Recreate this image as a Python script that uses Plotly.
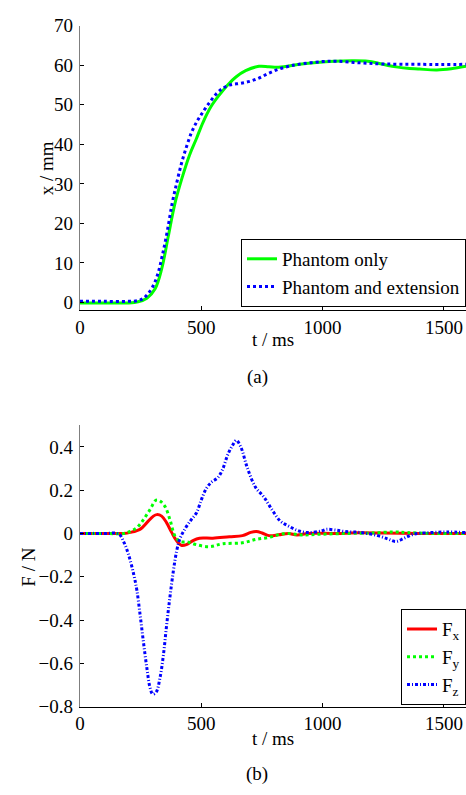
import plotly.graph_objects as go

# ---- Data: panel (a) displacement ----
t_green = [0, 100, 200, 240, 276, 310, 337, 364, 391, 421, 452, 480, 507, 541, 575, 609, 643, 683,
           738, 779, 819, 914, 1000, 1050, 1120, 1186, 1230, 1270, 1310, 1350, 1400, 1471, 1530, 1591]
x_green = [-0.1, -0.1, -0.1, 0.2, 1.1, 3.5, 8.5, 16.7, 24.9, 31.5, 37.3, 41.4, 45.5, 49.6, 52.5, 55.0,
           57.0, 58.6, 59.7, 59.6, 59.5, 60.3, 60.8, 61.0, 61.1, 61.0, 60.5, 59.9, 59.5, 59.2, 59.0,
           58.8, 59.1, 59.7]

t_blue = [0, 100, 200, 240, 260, 280, 300, 320, 340, 360, 380, 400, 420, 440, 460, 480, 500, 530,
          560, 590, 620, 660, 700, 740, 780, 820, 860, 900, 1000, 1060, 1150, 1250, 1400, 1600]
x_blue = [0.3, 0.3, 0.3, 0.5, 1.0, 2.2, 4.0, 7.0, 12.0, 18.0, 25.0, 30.5, 35.5, 39.5, 43.0, 45.5,
          47.5, 50.2, 52.6, 54.2, 55.0, 55.4, 55.9, 56.8, 58.0, 59.0, 59.7, 60.2, 60.9, 61.0, 60.6,
          60.3, 60.2, 60.2]

# ---- Data: panel (b) forces ----
t_fx = [0, 100, 180, 208, 249, 276, 303, 317, 337, 357, 378, 398, 418, 439, 466, 493, 548, 616, 670,
        704, 727, 751, 779, 819, 860, 894, 942, 1050, 1150, 1250, 1400, 1600]
fx = [0, 0, 0, 0.005, 0.02, 0.05, 0.08, 0.087, 0.08, 0.05, 0.005, -0.033, -0.055, -0.052, -0.033,
      -0.022, -0.022, -0.015, -0.01, 0.005, 0.009, 0.002, -0.01, -0.006, 0, -0.007, 0, 0, 0.003, 0.002,
      0, 0]

t_fy = [0, 100, 180, 208, 235, 262, 289, 314, 330, 351, 371, 391, 412, 446, 480, 534, 588, 670, 724,
        779, 847, 914, 982, 1100, 1200, 1295, 1349, 1450, 1600]
fy = [0, 0, 0, 0.01, 0.027, 0.064, 0.11, 0.154, 0.15, 0.124, 0.064, -0.01, -0.037, -0.04, -0.052,
      -0.061, -0.048, -0.043, -0.028, -0.018, 0, -0.007, -0.004, 0, 0.002, 0.007, 0.004, 0, 0]

t_fz = [0, 100, 160, 181, 201, 222, 235, 249, 262, 276, 289, 300, 314, 330, 344, 357, 371, 385, 398,
        412, 432, 459, 480, 500, 520, 541, 568, 588, 609, 629, 645, 663, 690, 724, 758, 792, 826, 860,
        901, 942, 996, 1016, 1050, 1091, 1159, 1227, 1268, 1302, 1336, 1376, 1444, 1512, 1591]
fz = [0, 0, -0.003, -0.04, -0.1, -0.19, -0.264, -0.384, -0.503, -0.622, -0.712, -0.742, -0.734,
      -0.667, -0.563, -0.428, -0.294, -0.175, -0.085, -0.025, 0.019, 0.064, 0.094, 0.154, 0.206,
      0.236, 0.258, 0.296, 0.363, 0.407, 0.43, 0.4, 0.303, 0.213, 0.169, 0.109, 0.057, 0.034, 0.012,
      0.004, 0.012, 0.019, 0.016, 0.009, 0.004, -0.01, -0.025, -0.037, -0.022, -0.003, 0.004, 0.007,
      0.004]

x_ticks = [0, 500, 1000, 1500]
y_ticks_a = [0, 10, 20, 30, 40, 50, 60, 70]
y_ticks_b = [-0.8, -0.6, -0.4, -0.2, 0, 0.2, 0.4]
y_ticktext_b = ["\u22120.8", "\u22120.6", "\u22120.4", "\u22120.2", "0", "0.2", "0.4"]

W, H = 466, 795
FONT = "Liberation Serif"
FS = 19
TXT = dict(family=FONT, size=FS, color="black")


def px(x):
    return x / W


def py(y):
    return 1 - y / H


fig = go.Figure()
fig.add_trace(go.Scatter(x=t_green, y=x_green, mode="lines", name="Phantom only",
                         line=dict(color="#00ff00", width=3, shape="spline"),
                         xaxis="x", yaxis="y", legend="legend"))
fig.add_trace(go.Scatter(x=t_blue, y=x_blue, mode="lines", name="Phantom and extension",
                         line=dict(color="#0000ff", width=3, dash="dot", shape="spline"),
                         xaxis="x", yaxis="y", legend="legend"))
fig.add_trace(go.Scatter(x=t_fx, y=fx, mode="lines", name="F<sub>x</sub>",
                         line=dict(color="#ff0000", width=3, shape="spline"),
                         xaxis="x2", yaxis="y2", legend="legend2"))
fig.add_trace(go.Scatter(x=t_fy, y=fy, mode="lines", name="F<sub>y</sub>",
                         line=dict(color="#00ff00", width=3, dash="dot", shape="spline"),
                         xaxis="x2", yaxis="y2", legend="legend2"))
fig.add_trace(go.Scatter(x=t_fz, y=fz, mode="lines", name="F<sub>z</sub>",
                         line=dict(color="#0000ff", width=3, dash="3px,2px,1px,2px", shape="spline"),
                         xaxis="x2", yaxis="y2", legend="legend2"))

xdom = [px(75.7), 1.0]
xrange_ = [0, 1591]
common_x = dict(range=xrange_, domain=xdom, tickvals=x_ticks, ticks="inside", ticklen=4,
                tickcolor="black", showline=True, linecolor="black", linewidth=1,
                showgrid=False, zeroline=False, tickfont=TXT)
common_y = dict(ticks="inside", ticklen=4, tickcolor="black", showline=True, linecolor="#7f7f7f",
                linewidth=1, showgrid=False, zeroline=False, tickfont=TXT, ticklabelstandoff=2)

fig.update_layout(
    width=W, height=H,
    margin=dict(l=0, r=0, t=0, b=0),
    paper_bgcolor="white", plot_bgcolor="white",
    font=TXT,
    xaxis=dict(**common_x, anchor="y"),
    yaxis=dict(**common_y, anchor="x", range=[-1.85, 70], domain=[py(308), py(16)],
               tickvals=y_ticks_a),
    xaxis2=dict(**common_x, anchor="y2"),
    yaxis2=dict(**common_y, anchor="x2", range=[-0.8, 0.5], domain=[py(715.5), py(426.5)],
                tickvals=y_ticks_b, ticktext=y_ticktext_b),
    legend=dict(x=1, xanchor="right", y=py(305), yanchor="bottom", bgcolor="white",
                bordercolor="black", borderwidth=1, itemwidth=30, tracegroupgap=0, font=TXT),
    legend2=dict(x=1, xanchor="right", y=py(714), yanchor="bottom", bgcolor="white",
                 bordercolor="black", borderwidth=1, itemwidth=30, tracegroupgap=0, font=TXT),
    showlegend=True,
)

annos = [
    dict(text="t / ms", x=px(271), y=py(338)),
    dict(text="t / ms", x=px(271), y=py(748)),
    dict(text="x / mm", x=px(42), y=py(163), textangle=-90),
    dict(text="F / N", x=px(24), y=py(572), textangle=-90),
    dict(text="(a)", x=px(255), y=py(377)),
    dict(text="(b)", x=px(255), y=py(785)),
]
for a in annos:
    a.update(xref="paper", yref="paper", showarrow=False, xanchor="center", yanchor="middle",
             font=TXT)
fig.update_layout(annotations=annos)

fig.write_html("out.html",
               config={"displayModeBar": False},
               post_script="document.body.style.margin='0';document.body.style.padding='0';"
                           "document.body.style.overflow='hidden';"
                           "document.documentElement.style.overflow='hidden';")
